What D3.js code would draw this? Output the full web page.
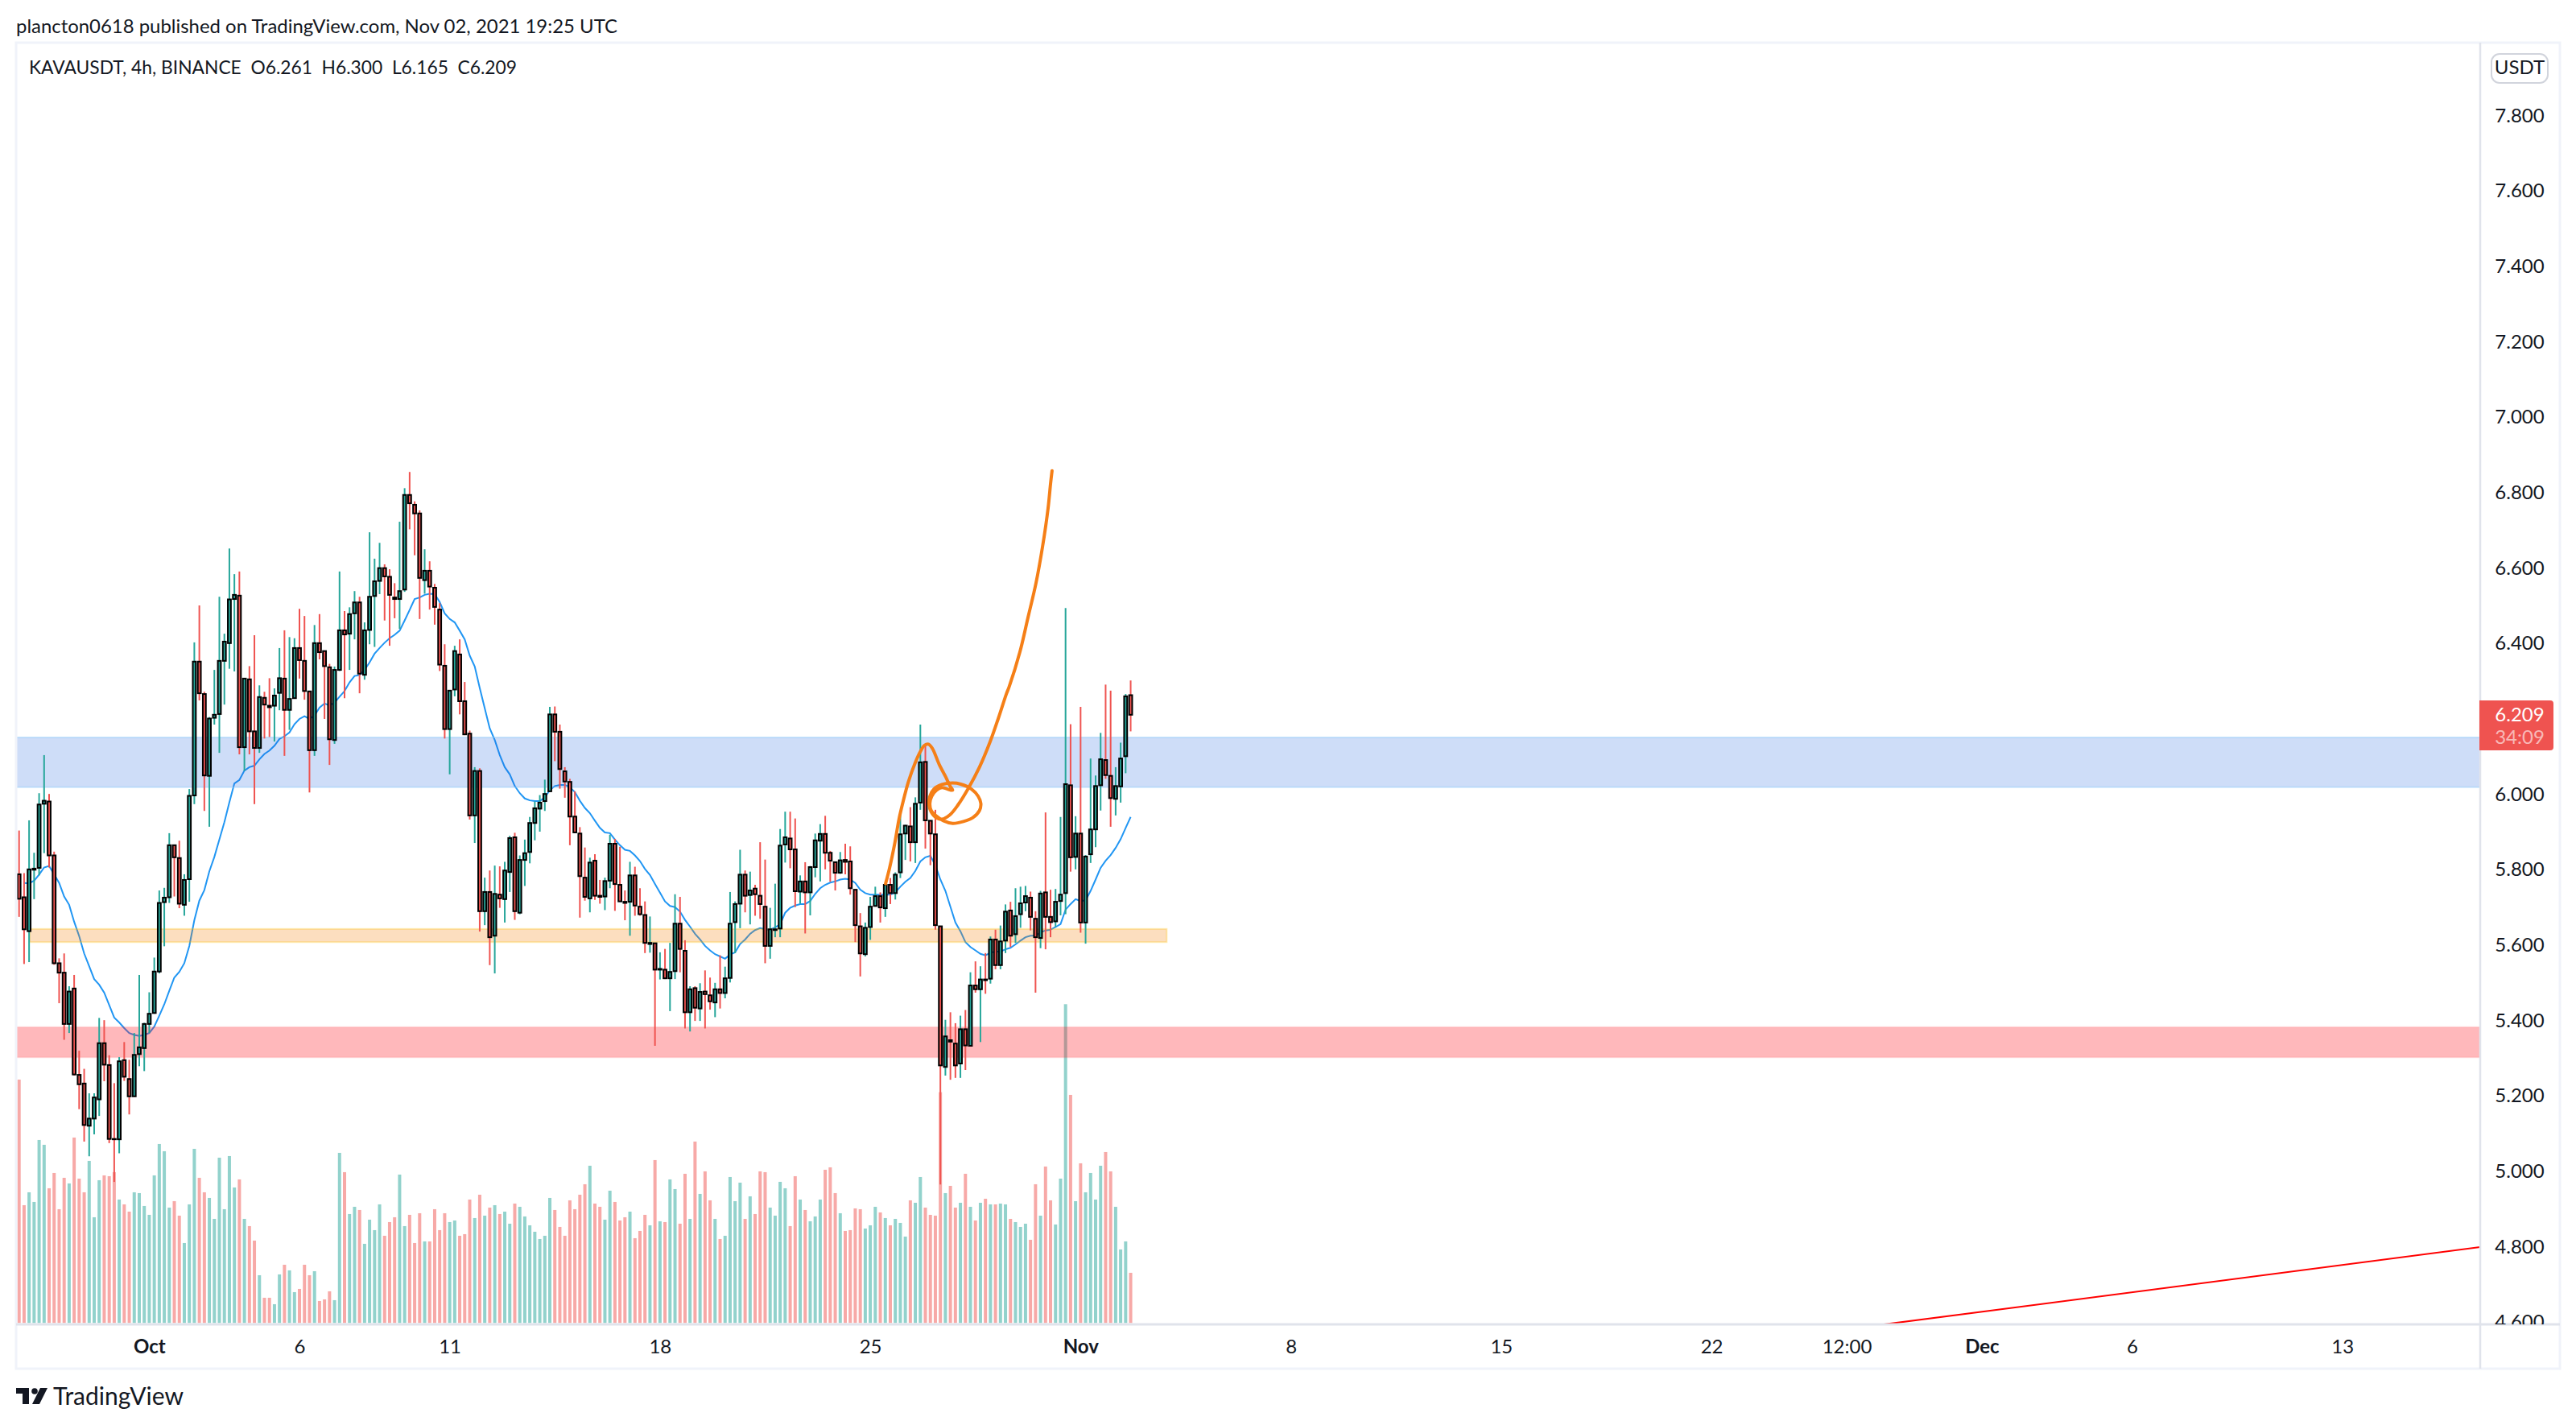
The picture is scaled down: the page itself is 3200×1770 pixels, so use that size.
<!DOCTYPE html>
<html><head><meta charset="utf-8">
<script src="https://cdn.jsdelivr.net/npm/d3@7/dist/d3.min.js"></script>
<style>html,body{margin:0;padding:0;background:#fff}svg{display:block}text{font-family:Lato,"Open Sans",sans-serif;fill:#131722;white-space:pre}</style>
</head><body><svg id="c" width="3200" height="1770"></svg>
<script>
const headerText="plancton0618 published on TradingView.com, Nov 02, 2021 19:25 UTC";
const legendText="KAVAUSDT, 4h, BINANCE  O6.261  H6.300  L6.165  C6.209";
const opens=[5.786,5.725,5.635,5.798,5.803,5.973,5.979,5.836,5.550,5.525,
5.389,5.483,5.254,5.231,5.119,5.138,5.189,5.338,5.280,5.084,
5.083,5.293,5.243,5.197,5.309,5.325,5.389,5.418,5.528,5.712,
5.725,5.863,5.829,5.705,5.773,5.995,6.350,6.264,6.047,6.201,
6.211,6.352,6.399,6.516,6.525,6.123,6.303,6.165,6.121,6.254,
6.233,6.233,6.267,6.305,6.222,6.253,6.386,6.352,6.271,6.115,
6.399,6.378,6.335,6.142,6.328,6.433,6.424,6.478,6.507,6.315,
6.434,6.524,6.564,6.598,6.575,6.520,6.516,6.541,6.792,6.766,
6.743,6.566,6.591,6.546,6.488,6.339,6.171,6.276,6.369,6.245,
6.159,5.942,6.060,5.688,5.739,5.623,5.732,5.720,5.792,5.884,
5.684,5.824,5.845,5.922,5.960,5.980,6.006,6.210,6.164,6.059,
6.031,5.939,5.894,5.777,5.722,5.822,5.729,5.727,5.769,5.867,
5.758,5.713,5.713,5.783,5.700,5.678,5.601,5.603,5.533,5.533,
5.510,5.529,5.655,5.583,5.420,5.484,5.430,5.475,5.465,5.446,
5.481,5.471,5.511,5.659,5.708,5.785,5.731,5.748,5.729,5.700,
5.596,5.638,5.642,5.865,5.881,5.852,5.740,5.767,5.738,5.805,
5.875,5.893,5.843,5.818,5.790,5.824,5.820,5.745,5.648,5.574,
5.646,5.702,5.728,5.696,5.758,5.736,5.791,5.894,5.913,5.871,
5.976,6.084,5.928,5.892,5.648,5.275,5.346,5.337,5.284,5.375,
5.331,5.491,5.481,5.507,5.509,5.613,5.545,5.610,5.690,5.627,
5.680,5.711,5.724,5.668,5.617,5.738,5.673,5.661,5.715,5.736,
6.022,5.832,5.894,5.658,5.839,5.905,6.022,6.089,6.047,5.986,
6.019,6.099,6.261];
const highs=[5.902,5.789,5.929,5.843,6.001,6.102,5.999,5.846,5.563,5.576,
5.489,5.519,5.318,5.270,5.205,5.205,5.405,5.399,5.306,5.232,
5.301,5.341,5.294,5.365,5.519,5.392,5.473,5.565,5.743,5.750,
5.895,5.863,5.875,5.786,6.012,6.401,6.499,6.270,6.203,6.328,
6.522,6.424,6.650,6.582,6.589,6.305,6.338,6.420,6.287,6.270,
6.306,6.279,6.386,6.433,6.415,6.412,6.490,6.471,6.272,6.447,
6.476,6.379,6.344,6.337,6.589,6.484,6.494,6.537,6.522,6.454,
6.693,6.623,6.665,6.608,6.595,6.558,6.721,6.810,6.853,6.775,
6.751,6.648,6.616,6.556,6.505,6.396,6.274,6.392,6.409,6.296,
6.167,6.070,6.067,5.777,5.796,5.809,5.807,5.819,5.888,5.896,
5.836,5.878,5.938,5.979,5.996,6.037,6.230,6.231,6.183,6.070,
6.039,6.006,5.911,5.857,5.830,5.839,5.771,5.777,5.891,5.880,
5.859,5.743,5.819,5.806,5.749,5.714,5.674,5.604,5.579,5.588,
5.604,5.733,5.726,5.611,5.489,5.489,5.497,5.531,5.512,5.498,
5.571,5.541,5.739,5.714,5.851,5.796,5.793,5.758,5.871,5.825,
5.697,5.761,5.906,5.952,5.952,5.934,5.783,5.818,5.808,5.894,
5.919,5.941,5.848,5.818,5.845,5.867,5.860,5.745,5.683,5.658,
5.726,5.753,5.738,5.761,5.776,5.791,5.951,5.917,5.964,5.990,
6.183,6.131,5.928,5.957,5.648,5.400,5.420,5.391,5.411,5.426,
5.526,5.555,5.542,5.577,5.621,5.639,5.650,5.706,5.713,5.749,
5.753,5.755,5.740,5.688,5.742,5.950,5.745,5.747,5.938,6.492,
6.184,5.940,6.230,5.837,6.093,6.048,6.161,6.289,6.273,6.070,
6.135,6.264,6.300];
const lows=[5.673,5.548,5.553,5.720,5.783,5.842,5.804,5.546,5.444,5.347,
5.365,5.252,5.163,5.077,5.038,5.096,5.145,5.237,5.073,4.970,
5.046,5.238,5.149,5.197,5.277,5.264,5.365,5.416,5.523,5.595,
5.710,5.727,5.696,5.676,5.713,5.972,6.247,5.954,5.912,6.183,
6.108,6.236,6.331,6.324,6.104,6.060,6.104,5.972,6.108,6.146,
6.150,6.138,6.221,6.100,6.169,6.253,6.305,6.249,6.003,6.100,
6.356,6.198,6.076,6.132,6.325,6.253,6.328,6.409,6.266,6.302,
6.396,6.389,6.529,6.459,6.392,6.465,6.437,6.535,6.701,6.632,
6.463,6.530,6.488,6.448,6.325,6.146,6.051,6.258,6.210,6.155,
5.931,5.869,5.634,5.651,5.545,5.523,5.697,5.658,5.739,5.665,
5.680,5.755,5.815,5.876,5.899,5.954,6.006,6.086,6.013,5.989,
5.863,5.895,5.671,5.716,5.685,5.718,5.708,5.691,5.749,5.689,
5.714,5.664,5.623,5.676,5.676,5.577,5.578,5.331,5.507,5.508,
5.423,5.508,5.526,5.377,5.369,5.397,5.397,5.377,5.427,5.407,
5.430,5.457,5.499,5.577,5.643,5.685,5.653,5.676,5.668,5.550,
5.562,5.619,5.619,5.817,5.802,5.699,5.708,5.629,5.677,5.778,
5.767,5.799,5.766,5.743,5.787,5.786,5.732,5.606,5.515,5.568,
5.612,5.700,5.658,5.673,5.707,5.719,5.776,5.824,5.820,5.816,
5.957,5.854,5.810,5.639,4.963,5.252,5.241,5.246,5.246,5.267,
5.331,5.472,5.341,5.469,5.496,5.534,5.534,5.577,5.593,5.604,
5.644,5.688,5.637,5.472,5.590,5.587,5.619,5.646,5.677,5.680,
5.793,5.799,5.631,5.602,5.816,5.858,5.955,6.039,5.912,5.942,
5.976,6.054,6.165];
const closes=[5.721,5.640,5.799,5.801,5.971,5.981,5.836,5.550,5.525,5.389,
5.475,5.255,5.229,5.121,5.138,5.194,5.338,5.281,5.084,5.083,
5.290,5.249,5.197,5.307,5.327,5.389,5.416,5.528,5.710,5.724,
5.863,5.831,5.708,5.771,5.994,6.350,6.266,6.048,6.199,6.209,
6.352,6.403,6.515,6.527,6.123,6.305,6.165,6.121,6.256,6.236,
6.229,6.260,6.306,6.222,6.251,6.386,6.354,6.272,6.115,6.399,
6.375,6.338,6.144,6.328,6.433,6.422,6.476,6.507,6.318,6.433,
6.522,6.563,6.598,6.576,6.527,6.516,6.537,6.792,6.770,6.743,
6.572,6.591,6.549,6.495,6.342,6.171,6.273,6.378,6.245,6.157,
5.942,6.060,5.688,5.739,5.619,5.734,5.722,5.796,5.882,5.688,
5.824,5.842,5.922,5.961,5.976,5.999,6.210,6.164,6.065,6.032,
5.939,5.897,5.781,5.726,5.817,5.729,5.726,5.768,5.867,5.760,
5.714,5.710,5.783,5.703,5.680,5.604,5.604,5.533,5.535,5.510,
5.527,5.655,5.588,5.420,5.481,5.432,5.474,5.468,5.449,5.481,
5.471,5.510,5.655,5.707,5.785,5.729,5.743,5.733,5.707,5.596,
5.640,5.640,5.862,5.884,5.852,5.741,5.767,5.738,5.805,5.876,
5.893,5.843,5.822,5.790,5.823,5.819,5.749,5.651,5.576,5.644,
5.700,5.728,5.698,5.758,5.736,5.785,5.892,5.915,5.871,5.973,
6.083,5.929,5.894,5.651,5.279,5.356,5.342,5.279,5.375,5.332,
5.491,5.481,5.507,5.505,5.613,5.545,5.608,5.687,5.623,5.675,
5.709,5.728,5.673,5.619,5.735,5.673,5.659,5.713,5.732,6.025,
5.831,5.894,5.658,5.833,5.905,6.020,6.091,6.049,5.988,6.020,
6.093,6.258,6.209];
const volumes=[907,439,487,451,682,664,502,559,424,541,
520,691,538,487,604,394,532,550,547,562,
460,442,415,487,484,436,403,550,667,640,
430,454,400,298,442,649,541,487,466,388,
616,424,622,505,535,388,361,307,178,94,
94,70,181,217,196,115,127,217,178,193,
82,88,118,85,634,562,406,433,421,295,
385,346,442,325,376,394,553,361,403,298,
409,304,304,424,346,409,376,382,325,331,
460,391,478,400,430,439,406,415,370,445,
433,397,364,340,313,325,466,421,358,325,
457,424,478,517,586,445,433,385,493,451,
382,394,415,316,343,403,364,607,379,376,
535,499,370,556,388,676,481,565,457,388,
313,325,544,454,523,388,472,406,565,562,
430,400,526,502,361,547,460,421,379,397,
460,571,580,484,409,343,346,427,424,352,
364,433,412,391,364,388,373,322,457,448,
544,430,403,400,860,484,511,430,448,556,
433,382,448,463,442,442,445,442,388,376,
358,370,310,517,400,583,457,367,538,1188,
850,454,595,487,559,460,586,637,565,433,
274,304,187];
const maStartBar=1;
const ma=[5.763,5.762,5.769,5.785,5.804,5.808,5.786,5.763,5.727,5.705,
5.660,5.622,5.576,5.542,5.508,5.493,5.472,5.439,5.406,5.393,
5.378,5.365,5.360,5.357,5.360,5.365,5.382,5.411,5.441,5.477,
5.512,5.527,5.550,5.596,5.664,5.716,5.744,5.794,5.832,5.878,
5.924,5.977,6.027,6.036,6.061,6.070,6.074,6.091,6.105,6.114,
6.127,6.145,6.152,6.162,6.184,6.198,6.205,6.198,6.207,6.228,
6.239,6.234,6.241,6.257,6.272,6.295,6.312,6.314,6.328,6.348,
6.371,6.386,6.400,6.412,6.421,6.432,6.459,6.487,6.516,6.520,
6.527,6.530,6.529,6.508,6.478,6.463,6.454,6.432,6.409,6.366,
6.337,6.280,6.226,6.173,6.142,6.102,6.070,6.051,6.020,6.001,
5.987,5.982,5.980,5.980,5.990,6.009,6.020,6.023,6.023,6.017,
6.004,5.981,5.962,5.948,5.928,5.909,5.897,5.895,5.878,5.863,
5.851,5.848,5.836,5.821,5.800,5.784,5.760,5.737,5.714,5.702,
5.699,5.687,5.665,5.647,5.628,5.613,5.596,5.584,5.574,5.568,
5.562,5.573,5.579,5.601,5.613,5.628,5.638,5.643,5.640,5.639,
5.645,5.653,5.684,5.697,5.703,5.707,5.707,5.715,5.734,5.749,
5.758,5.764,5.767,5.772,5.774,5.772,5.763,5.745,5.736,5.732,
5.732,5.732,5.732,5.732,5.738,5.753,5.766,5.776,5.795,5.820,
5.831,5.835,5.810,5.772,5.742,5.700,5.658,5.635,5.606,5.593,
5.584,5.575,5.571,5.578,5.581,5.581,5.587,5.591,5.600,5.610,
5.619,5.623,5.623,5.632,5.637,5.639,5.646,5.654,5.692,5.707,
5.720,5.715,5.717,5.742,5.772,5.803,5.822,5.837,5.856,5.879,
5.909,5.938];
const blueZone=[6.017,6.149], redZone=[5.300,5.381], orangeZone=[5.606,5.641];
const orangeZoneBars=[2.1,229.2];
const drawBars=[173.05,173.86,174.93,175.73,176.54,177.61,178.95,180.02,180.82,181.63,182.43,183.77,185.11,185.92,186.45,185.38,184.31,183.24,182.27,181.90,182.16,183.24,184.58,186.45,188.60,190.47,191.81,192.08,191.54,190.20,188.06,186.45,184.31,182.70,181.90,181.74,182.16,183.24,184.31,185.92,187.52,189.67,191.81,193.95,195.56,197.17,197.73,199.87,201.48,203.09,204.43,205.5,206.03,206.3];
const drawPrices=[5.761,5.803,5.871,5.932,5.978,6.031,6.081,6.112,6.128,6.131,6.119,6.077,6.043,6.020,6.009,6.012,6.016,6.009,5.993,5.974,5.955,5.940,5.928,5.921,5.926,5.936,5.955,5.974,5.993,6.012,6.025,6.028,6.024,6.012,5.993,5.970,5.951,5.935,5.932,5.944,5.970,6.016,6.070,6.138,6.199,6.264,6.283,6.375,6.466,6.558,6.657,6.756,6.825,6.856];
const trendBars=[372.4,491.5], trendPrices=[4.592,4.797];
const priceTicks=[7.8,7.6,7.4,7.2,7.0,6.8,6.6,6.4,6.2,6.0,5.8,5.6,5.4,5.2,5.0,4.8,4.6];
const timeTickBars=[26,56,86,128,170,212,254,296,338,365,392,422,464];
const timeTickLabels=["Oct","6","11","18","25","Nov","8","15","22","12:00","Dec","6","13"];
const monthLabels=["Oct","Nov","Dec"];
const lastPrice="6.209", countdown="34:09";

const PL=20,PR=3081,PT=53,PB=1645,FR=3180,FB=1700;
const x=d3.scaleLinear().domain([0,222]).range([23.7,23.7+6.22*222]);
const y=d3.scaleLinear().domain([4.8,7.8]).range([1547.7,142.7]);
const yVol=d3.scaleLinear().domain([0,3000]).range([1643.3,643.3]);
const UP="#26a69a",DN="#ef5350";
const svg=d3.select("#c");
svg.append("rect").attr("width",3200).attr("height",1770).attr("fill","#fff");
const defs=svg.append("defs");
defs.append("clipPath").attr("id","pane").append("rect").attr("x",PL).attr("y",PT).attr("width",PR-PL).attr("height",PB-PT);
defs.append("clipPath").attr("id","axisclip").append("rect").attr("x",PR).attr("y",PT).attr("width",FR-PR).attr("height",PB-PT);

const pane=svg.append("g").attr("clip-path","url(#pane)");
const bars=d3.range(opens.length).map(i=>({i,o:opens[i],h:highs[i],l:lows[i],c:closes[i],v:volumes[i]}));
const col=d=>d.c>=d.o?UP:DN;

pane.append("g").selectAll("rect").data(bars).join("rect")
 .attr("x",d=>x(d.i)-2).attr("width",4)
 .attr("y",d=>yVol(d.v)).attr("height",d=>yVol(0)-yVol(d.v))
 .attr("fill",col).attr("fill-opacity",.5);

pane.append("path").datum(ma)
 .attr("d",d3.line().x((d,i)=>x(i+maStartBar)).y(d=>y(d)))
 .attr("fill","none").attr("stroke","#2196f3").attr("stroke-width",2);

function zone(p,b0,b1,fill,stroke){
 const xa=b0==null?PL:x(b0),xb=b1==null?PR:x(b1);
 pane.append("rect").attr("x",xa).attr("width",xb-xa)
  .attr("y",y(p[1])).attr("height",y(p[0])-y(p[1]))
  .attr("fill",fill).attr("stroke",stroke).attr("stroke-width",2);
}
zone(blueZone,null,null,"rgba(30,100,225,.22)","rgba(144,202,249,.45)");
zone(orangeZone,orangeZoneBars[0],orangeZoneBars[1],"rgba(245,124,0,.25)","rgba(255,193,7,.3)");
zone(redZone,null,null,"rgba(255,20,30,.3)","rgba(255,20,30,.06)");

const cg=pane.append("g");
cg.selectAll("line").data(bars).join("line")
 .attr("x1",d=>x(d.i)).attr("x2",d=>x(d.i)).attr("y1",d=>y(d.h)).attr("y2",d=>y(d.l))
 .attr("stroke",col).attr("stroke-width",2);
cg.selectAll("rect").data(bars).join("rect")
 .attr("x",d=>x(d.i)-1.9).attr("width",3.8)
 .attr("y",d=>y(Math.max(d.o,d.c))).attr("height",d=>Math.abs(y(d.o)-y(d.c)))
 .attr("fill",col).attr("stroke","#000").attr("stroke-width",2);

pane.append("path").datum(drawBars.map((b,i)=>[b,drawPrices[i]]))
 .attr("d",d3.line().x(d=>x(d[0])).y(d=>y(d[1])).curve(d3.curveCatmullRom.alpha(.5)))
 .attr("fill","none").attr("stroke","#f57f17").attr("stroke-width",4).attr("stroke-linecap","round").attr("stroke-linejoin","round");

pane.append("line").attr("x1",x(trendBars[0])).attr("y1",y(trendPrices[0])).attr("x2",x(trendBars[1])).attr("y2",y(trendPrices[1]))
 .attr("stroke","#ff0000").attr("stroke-width",2);

// frame
const fr="#f0f3fa",ax="#e0e3eb";
svg.append("rect").attr("x",PL).attr("y",PT).attr("width",FR-PL).attr("height",FB-PT).attr("fill","none").attr("stroke",fr).attr("stroke-width",3);
svg.append("line").attr("x1",PR).attr("x2",PR).attr("y1",PT).attr("y2",FB).attr("stroke",ax).attr("stroke-width",2.5);
svg.append("line").attr("x1",PL).attr("x2",FR).attr("y1",PB).attr("y2",PB).attr("stroke",ax).attr("stroke-width",3);

// axes
const yAxis=d3.axisRight(y).tickValues(priceTicks).tickFormat(d3.format(".3f")).tickSize(0).tickPadding(0);
const ya=svg.append("g").attr("clip-path","url(#axisclip)").append("g").attr("transform","translate(3130,0)").call(yAxis);
ya.select(".domain").remove();
ya.selectAll("text").attr("x",0).attr("text-anchor","middle").attr("dy",".35em").attr("font-size",24).style("font-family","Lato,sans-serif").attr("fill","#131722");

const xAxis=d3.axisBottom(x).tickValues(timeTickBars).tickFormat((d,i)=>timeTickLabels[i]).tickSize(0).tickPadding(0);
const xa=svg.append("g").attr("transform","translate(0,1673)").call(xAxis);
xa.select(".domain").remove();
xa.selectAll("text").attr("y",0).attr("dy",".35em").attr("font-size",24).style("font-family","Lato,sans-serif").attr("fill","#131722")
 .attr("font-weight",(d,i)=>monthLabels.includes(timeTickLabels[i])?700:400);

// header + legend
svg.append("text").attr("x",20).attr("y",41).attr("font-size",24).attr("textLength",747).attr("lengthAdjust","spacingAndGlyphs").text(headerText);
svg.append("text").attr("x",36).attr("y",92).attr("font-size",24).attr("textLength",606).attr("lengthAdjust","spacingAndGlyphs").text(legendText);

// currency button
svg.append("rect").attr("x",3095).attr("y",67).attr("width",70).attr("height",36).attr("rx",10).attr("fill","#fff").attr("stroke","#d1d4dc").attr("stroke-width",2);
svg.append("text").attr("x",3130).attr("y",92).attr("text-anchor","middle").attr("font-size",24).text("USDT");

// last price tag
svg.append("path").attr("d","M3080 870H3168a4 4 0 0 1 4 4V928a4 4 0 0 1-4 4H3080Z").attr("fill",DN);
svg.append("text").attr("x",3130).attr("y",y(+lastPrice)+8.5).attr("text-anchor","middle").attr("font-size",24).style("fill","#fff").text(lastPrice);
svg.append("text").attr("x",3130).attr("y",924).attr("text-anchor","middle").attr("font-size",24).style("fill","#fff").style("fill-opacity",.6).text(countdown);

// logo
const logo=svg.append("g").attr("fill","#131722");
logo.append("path").attr("d","M20 1724H36V1744H28V1731H20Z");
logo.append("circle").attr("cx",43).attr("cy",1728).attr("r",3.8);
logo.append("path").attr("d","M50 1724H59L49 1744H40Z");
svg.append("text").attr("x",66).attr("y",1745).attr("font-size",30).text("TradingView");
</script></body></html>
